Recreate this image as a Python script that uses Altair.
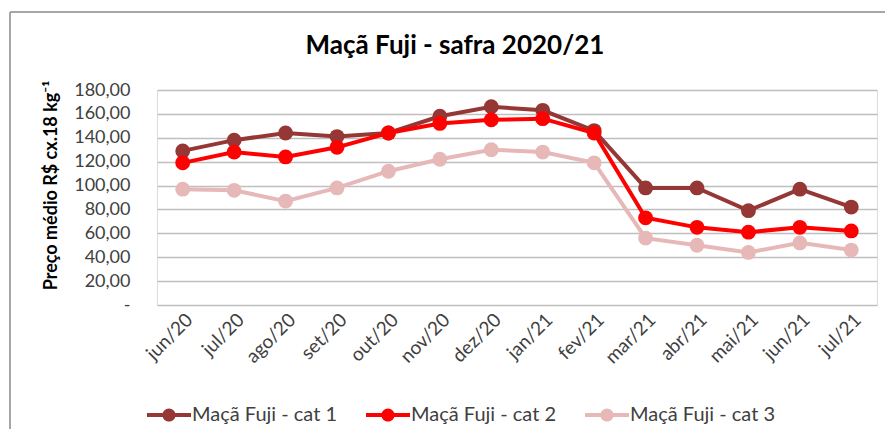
import altair as alt
import pandas as pd

months = ["jun/20", "jul/20", "ago/20", "set/20", "out/20", "nov/20", "dez/20",
          "jan/21", "fev/21", "mar/21", "abr/21", "mai/21", "jun/21", "jul/21"]
series_names = ["Maçã Fuji - cat 1", "Maçã Fuji - cat 2", "Maçã Fuji - cat 3"]
cat1 = [129, 138, 144, 141, 144, 158, 166, 163, 146, 98, 98, 79, 97, 82]
cat2 = [119, 128, 124, 132, 144, 152, 155, 156, 144, 73, 65, 61, 65, 62]
cat3 = [97, 96, 87, 98, 112, 122, 130, 128, 119, 56, 50, 44, 52, 46]
colors = ["#953735", "#FF0000", "#E6B9B8"]
y_ticks = [0, 20, 40, 60, 80, 100, 120, 140, 160, 180]

rows = []
for name, vals in zip(series_names, [cat1, cat2, cat3]):
    for m, v in zip(months, vals):
        rows.append({"mes": m, "serie": name, "preco": v})
df = pd.DataFrame(rows)

FONT = "Lato"

x_enc = alt.X("mes:N", sort=months, title=None,
              scale=alt.Scale(paddingInner=1, paddingOuter=0.5),
              axis=alt.Axis(labelAngle=-45, labelFontSize=19, labelColor="#404040",
                            labelFont=FONT, ticks=False, domain=False, grid=False,
                            labelPadding=5))
y_enc = alt.Y("preco:Q", scale=alt.Scale(domain=[0, 180], nice=False),
              axis=alt.Axis(values=y_ticks, grid=True, gridColor="#BFBFBF", gridWidth=1.6,
                            ticks=False, domain=False, labelFontSize=18, labelFont=FONT,
                            labelColor="#404040", labelPadding=27,
                            labelExpr="datum.value == 0 ? '-' : replace(format(datum.value, '.2f'), '.', ',')",
                            title="Preço médio R$ cx.18 kg⁻¹", titleFont=FONT, titleFontSize=18,
                            titleFontWeight="bold", titleColor="#000000", titleAngle=-90,
                            titleX=-106, titleY=95, titleAlign="center", titleBaseline="middle"))
color_scale = alt.Scale(domain=series_names, range=colors)

base = alt.Chart(df)

lines = base.mark_line(strokeWidth=4).encode(
    x=x_enc, y=y_enc,
    color=alt.Color("serie:N", scale=color_scale, legend=None),
    detail="serie:N",
)

legend_path = ("M-1,-0.09 L1,-0.09 L1,0.09 L-1,0.09 Z "
               "M-0.3,0 A0.3,0.3 0 1,1 0.3,0 A0.3,0.3 0 1,1 -0.3,0 Z")

points = base.mark_point(filled=True, size=220, opacity=1).encode(
    x=x_enc, y=y_enc,
    color=alt.Color("serie:N", scale=color_scale,
                    legend=alt.Legend(title=None, orient="none", direction="horizontal",
                                      legendX=-10, legendY=303,
                                      symbolType=legend_path, symbolSize=1936,
                                      symbolStrokeWidth=0, symbolOpacity=1,
                                      labelFont=FONT, labelFontSize=20, labelColor="#404040",
                                      labelOffset=1, columnPadding=28)),
)

border_top = alt.Chart(pd.DataFrame({"a": [0]})).mark_rule(color="#A6A6A6", strokeWidth=2).encode(
    x=alt.value(-147), x2=alt.value(740), y=alt.value(-78))
border_left = alt.Chart(pd.DataFrame({"a": [0]})).mark_rule(color="#A6A6A6", strokeWidth=2).encode(
    x=alt.value(-147), y=alt.value(-78), y2=alt.value(350))

chart = alt.layer(border_top, border_left, lines, points).resolve_legend(
    color="independent"
).properties(
    width=720, height=215,
    padding={"left": 149, "top": 82, "right": 8, "bottom": 124},
    autosize=alt.AutoSizeParams(type="none"),
    title=alt.TitleParams("Maçã Fuji - safra 2020/21", font=FONT, fontSize=26,
                          fontWeight="bold", color="#000000", anchor="middle",
                          dx=-62, offset=-48),
).configure_view(stroke=None).configure(background="white")

chart.save("out.html", embed_options={"renderer": "svg", "actions": False})
